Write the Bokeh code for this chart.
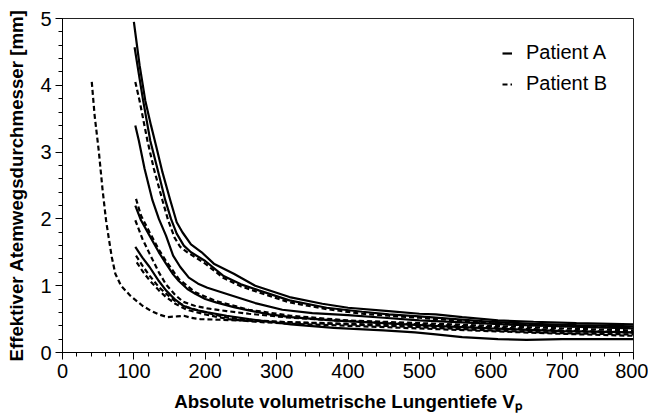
from bokeh.plotting import figure
from bokeh.models import Legend, LegendItem, Range1d, SingleIntervalTicker
from bokeh.embed import file_html
from bokeh.resources import INLINE

# ---------------- data ----------------
# Patient A (solid lines)
a1_x = [100, 108, 116, 124, 131, 140, 151, 160, 168, 180, 195, 212, 240, 270, 318, 364, 400, 457, 500, 523, 560, 610, 660, 720, 800]
a1_y = [4.95, 4.30, 3.77, 3.40, 3.10, 2.70, 2.28, 1.95, 1.80, 1.62, 1.50, 1.33, 1.18, 1.00, 0.83, 0.73, 0.67, 0.62, 0.58, 0.57, 0.53, 0.48, 0.46, 0.44, 0.42]

a2_x = [101, 108, 113, 123, 133, 144, 152, 160, 170, 180, 200, 225, 250, 275, 318, 370, 420, 457, 500, 550, 600, 660, 720, 800]
a2_y = [4.57, 4.10, 3.77, 3.17, 2.75, 2.28, 2.00, 1.78, 1.60, 1.50, 1.37, 1.15, 1.02, 0.93, 0.78, 0.67, 0.61, 0.57, 0.54, 0.50, 0.46, 0.43, 0.41, 0.39]

a3_x = [102, 107, 115, 126, 135, 145, 155, 165, 177, 190, 203, 238, 270, 308, 350, 400, 450, 500, 560, 620, 700, 800]
a3_y = [3.40, 3.17, 2.75, 2.28, 2.00, 1.75, 1.45, 1.28, 1.12, 1.03, 0.97, 0.85, 0.74, 0.64, 0.59, 0.56, 0.52, 0.48, 0.45, 0.42, 0.39, 0.36]

a4_x = [102, 110, 122, 135, 145, 155, 163, 175, 186, 200, 215, 240, 261, 290, 320, 378, 450, 520, 600, 700, 800]
a4_y = [2.20, 1.98, 1.75, 1.50, 1.33, 1.17, 1.07, 0.95, 0.88, 0.80, 0.75, 0.68, 0.63, 0.57, 0.53, 0.48, 0.44, 0.40, 0.36, 0.32, 0.30]

a5_x = [102, 112, 122, 135, 145, 158, 169, 185, 203, 230, 261, 320, 380, 450, 494, 523, 560, 610, 650, 700, 800]
a5_y = [1.58, 1.42, 1.28, 1.07, 0.93, 0.79, 0.70, 0.64, 0.60, 0.55, 0.50, 0.42, 0.37, 0.33, 0.30, 0.27, 0.23, 0.20, 0.19, 0.20, 0.20]

# Patient B (dashed lines)
b1_x = [41, 45, 51, 56, 61, 65, 69, 74, 82, 95, 112, 123, 135, 147, 160, 170, 180, 193, 220, 250, 300, 400, 500, 600, 700, 800]
b1_y = [4.05, 3.55, 3.00, 2.45, 1.98, 1.70, 1.43, 1.18, 1.00, 0.85, 0.70, 0.63, 0.57, 0.53, 0.54, 0.55, 0.52, 0.50, 0.49, 0.48, 0.46, 0.43, 0.40, 0.36, 0.32, 0.30]

b2_x = [102, 108, 119, 128, 140, 148, 157, 165, 175, 200, 225, 250, 275, 318, 370, 420, 457, 500, 550, 600, 660, 720, 800]
b2_y = [4.05, 3.77, 3.17, 2.75, 2.28, 1.98, 1.72, 1.58, 1.50, 1.33, 1.12, 0.99, 0.90, 0.75, 0.65, 0.58, 0.55, 0.52, 0.48, 0.44, 0.41, 0.39, 0.37]

b3_x = [103, 110, 122, 135, 145, 163, 186, 215, 261, 320, 400, 500, 600, 700, 800]
b3_y = [2.30, 2.05, 1.80, 1.54, 1.37, 1.10, 0.90, 0.77, 0.64, 0.55, 0.48, 0.44, 0.40, 0.36, 0.33]

b4_x = [102, 112, 122, 135, 145, 158, 169, 185, 203, 230, 261, 320, 400, 500, 600, 700, 800]
b4_y = [1.98, 1.70, 1.48, 1.20, 1.02, 0.86, 0.76, 0.70, 0.66, 0.62, 0.58, 0.52, 0.47, 0.42, 0.38, 0.33, 0.30]

b5_x = [103, 112, 122, 135, 145, 158, 174, 200, 232, 270, 320, 400, 500, 600, 700, 800]
b5_y = [1.45, 1.30, 1.15, 0.98, 0.88, 0.77, 0.68, 0.60, 0.52, 0.48, 0.45, 0.42, 0.38, 0.33, 0.29, 0.27]

b6_x = [104, 112, 122, 135, 145, 158, 174, 200, 232, 270, 320, 400, 500, 600, 700, 800]
b6_y = [1.35, 1.22, 1.08, 0.93, 0.83, 0.73, 0.64, 0.57, 0.50, 0.46, 0.43, 0.40, 0.36, 0.32, 0.28, 0.25]

legend_labels = ["Patient A", "Patient B"]
x_label = "Absolute volumetrische Lungentiefe V\u209a"
y_label = "Effektiver Atemwegsdurchmesser [mm]"

# ---------------- figure ----------------
p = figure(width=648, height=420, output_backend="svg", toolbar_location=None,
           x_range=Range1d(0, 800), y_range=Range1d(0, 5),
           min_border_left=62, min_border_right=15, min_border_top=18, min_border_bottom=68)
p.xgrid.visible = False
p.ygrid.visible = False
p.outline_line_color = "#222222"
p.outline_line_width = 1
p.background_fill_color = "white"
p.border_fill_color = "white"

FONT = "Liberation Sans"
p.xaxis.ticker = SingleIntervalTicker(interval=100, num_minor_ticks=5)
p.yaxis.ticker = SingleIntervalTicker(interval=1, num_minor_ticks=5)
for ax in (p.xaxis, p.yaxis):
    ax.axis_line_color = "black"
    ax.axis_line_width = 1
    ax.major_tick_in = 0
    ax.major_tick_out = 7
    ax.minor_tick_in = 0
    ax.minor_tick_out = 4
    ax.major_tick_line_color = "black"
    ax.minor_tick_line_color = "black"
    ax.major_label_text_font = FONT
    ax.major_label_text_font_size = "20px"
    ax.major_label_text_color = "black"
    ax.major_label_standoff = 4
    ax.axis_label_text_font = FONT
    ax.axis_label_text_font_style = "bold"
    ax.axis_label_text_color = "black"
    ax.axis_label_text_font_size = "18.7px"
p.xaxis.axis_label = x_label
p.yaxis.axis_label = y_label
p.xaxis.axis_label_standoff = 10
p.yaxis.axis_label_standoff = 10

LW = 2.2
DASH = "5 3"
solid = [(a1_x, a1_y), (a2_x, a2_y), (a3_x, a3_y), (a4_x, a4_y), (a5_x, a5_y)]
dashed = [(b1_x, b1_y), (b2_x, b2_y), (b3_x, b3_y), (b4_x, b4_y), (b5_x, b5_y), (b6_x, b6_y)]
rA = [p.line(x, y, line_color="black", line_width=LW) for x, y in solid]
rB = [p.line(x, y, line_color="black", line_width=LW, line_dash=DASH) for x, y in dashed]

legend = Legend(items=[LegendItem(label=legend_labels[0], renderers=[rA[0]]),
                       LegendItem(label=legend_labels[1], renderers=[rB[0]])],
                location=(440, 257), padding=0, margin=0, spacing=8,
                glyph_width=10, glyph_height=20, label_height=20, label_standoff=14,
                label_text_font=FONT, label_text_font_size="20px", label_text_color="black",
                border_line_color=None, background_fill_alpha=0)
p.add_layout(legend)

open("out.html", "w").write(file_html(p, INLINE))
